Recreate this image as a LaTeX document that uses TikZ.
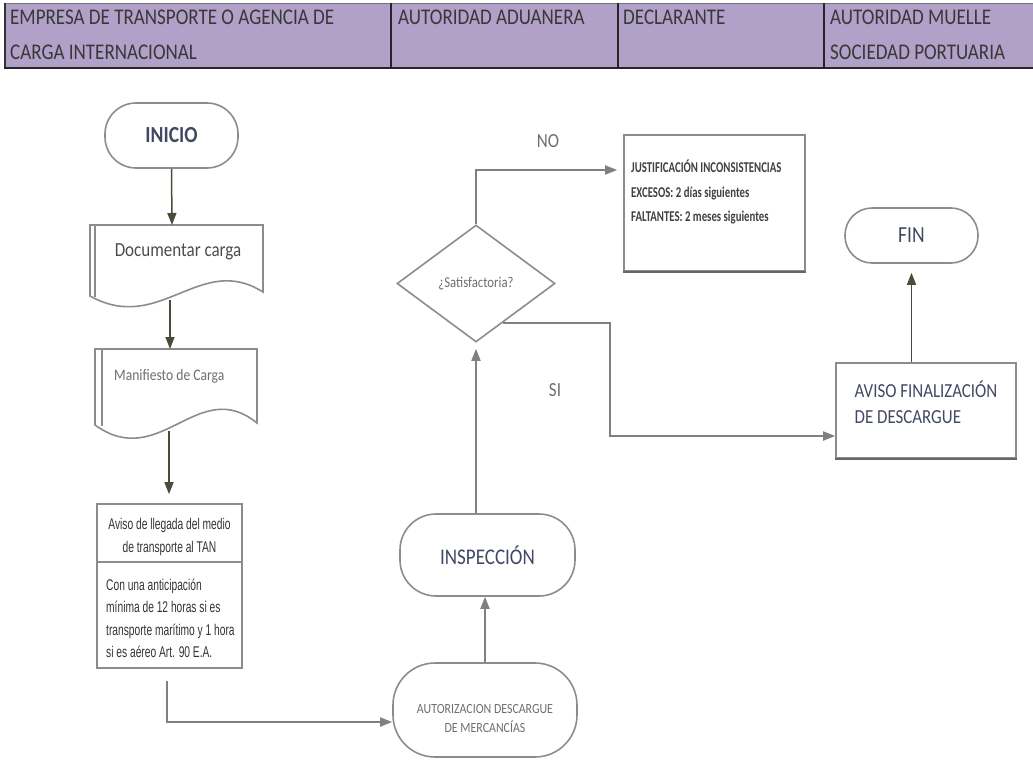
\documentclass[tikz,border=0pt]{standalone}
\usepackage{fontspec}
\setmainfont[FakeStretch=0.85]{Carlito}
\newfontfamily\narrowfont[FakeStretch=0.66]{Liberation Sans}
\newfontfamily\condfont[FakeStretch=0.72]{Carlito}
\usetikzlibrary{arrows.meta,shapes.geometric,calc}
\definecolor{hdrbg}{RGB}{177,160,199}
\definecolor{hdrtxt}{RGB}{56,56,56}
\definecolor{bordergray}{RGB}{140,140,140}
\definecolor{linegray}{RGB}{128,128,128}
\definecolor{olivec}{RGB}{77,74,58}
\definecolor{slate}{RGB}{64,72,100}
\definecolor{txtgray}{RGB}{110,110,110}
\begin{document}
\begin{tikzpicture}[x=1pt,y=-1pt,
  hdr/.style={anchor=north west,inner sep=0pt,align=left,text=hdrtxt,font=\fontsize{22.4}{35}\selectfont},
  term/.style={draw=bordergray,line width=1.6pt,rounded corners=#1,inner sep=0pt},
  boxst/.style={draw=bordergray,line width=1.6pt,inner sep=0pt},
  docline/.style={draw=bordergray,line width=1.6pt},
  arrOl/.style={draw=olivec,line width=1.5pt,-{Triangle[length=12pt,width=9pt]}},
  arrG/.style={draw=linegray,line width=1.8pt,-{Triangle[length=12pt,width=9pt]}}
]
\useasboundingbox (0,0) rectangle (1033,768);
% header
\fill[hdrbg] (5,3) rectangle (1033,68);
\draw[line width=0.8pt,black!55] (5,3) -- (1033,3);
\draw[line width=1.2pt,black!80] (5,3) -- (5,68);
\foreach \x in {391,618,824} \draw[line width=1.2pt,black!85] (\x,3) -- (\x,68);
\draw[line width=2.5pt,black!85] (4,68) -- (1033,68);
\node[hdr] (h1) at (10,10) {EMPRESA DE TRANSPORTE O AGENCIA DE\\CARGA INTERNACIONAL};
\node[hdr] (h2) at (398,10) {AUTORIDAD ADUANERA};
\node[hdr] (h3) at (623,10) {DECLARANTE};
\node[hdr] (h4) at (830,10) {AUTORIDAD MUELLE\\SOCIEDAD PORTUARIA};

% INICIO
\node[term=31pt,minimum width=133pt,minimum height=65pt,text=slate,font=\fontsize{23}{26}\selectfont\bfseries] (inicio) at (171.5,135.5) {INICIO};

% document 1
\draw[docline] (90,225) -- (263,225) -- (263,292) .. controls (200,252) and (160,335) .. (90,296) -- cycle;
\draw[docline] (95,225) -- (95,297);
\node[text=black!70,font=\fontsize{20}{24}\selectfont] (doc1) at (178,252) {Documentar carga};
\coordinate (d1top) at (172,225);
\coordinate (d1bot) at (170,300);

% document 2
\draw[docline] (95,349) -- (257,349) -- (257,423) .. controls (198,375) and (160,472) .. (95,425) -- cycle;
\draw[docline] (102,349) -- (102,426);
\node[anchor=west,inner sep=0pt,text=txtgray,font=\fontsize{16}{20}\selectfont] (doc2) at (114,376) {Manifiesto de Carga};
\coordinate (d2top) at (170,349);
\coordinate (d2bot) at (169,431);

% aviso box
\node[boxst,minimum width=145pt,minimum height=164pt] (aviso) at (169.5,586) {};
\draw[docline] (aviso.west |- 0,562) -- (aviso.east |- 0,562);
\node[align=center,inner sep=0pt,text=black!80,font=\narrowfont\fontsize{15.5}{23}\selectfont] (avisoA) at (169.5,536.5) {Aviso de llegada del medio\\de transporte al TAN};
\node[anchor=west,align=left,inner sep=0pt,text=black!80,font=\narrowfont\fontsize{15.5}{22.5}\selectfont] (avisoB) at (106,618.5) {Con una anticipación\\mínima de 12 horas si es\\transporte marítimo y 1 hora\\si es aéreo Art. 90 E.A.};
\coordinate (avturn) at (167,722);

% autorizacion
\node[term=42pt,minimum width=184pt,minimum height=94pt,text=txtgray,align=center,font=\fontsize{14}{19}\selectfont] (autor) at (485,710) {\rule{0pt}{26pt}AUTORIZACION DESCARGUE\\DE MERCANCÍAS};

% inspeccion
\node[term=36pt,minimum width=175pt,minimum height=82pt,text=slate,font=\fontsize{22.4}{26}\selectfont] (insp) at (487.5,555) {INSPECCIÓN};

% diamond
\node[diamond,draw=bordergray,line width=1.6pt,minimum width=158pt,minimum height=117pt,aspect=1.35,inner sep=0pt,text=txtgray,font=\fontsize{15}{18}\selectfont] (dia) at (476,283.5) {¿Satisfactoria?};

% justification
\node[boxst,minimum width=181pt,minimum height=136pt] (just) at (714.5,203) {};
\draw[line width=2.5pt,black!60] (just.south west) -- (just.south east);
\node[anchor=north west,align=left,inner sep=0pt,text=black!75,font=\condfont\bfseries\fontsize{15}{24.5}\selectfont] (justt) at (631,160) {JUSTIFICACIÓN INCONSISTENCIAS\\EXCESOS: 2 días siguientes\\FALTANTES: 2 meses siguientes};

% labels
\node[text=txtgray,font=\fontsize{20}{24}\selectfont] (nolab) at (548,141) {NO};
\node[text=txtgray,font=\fontsize{20}{24}\selectfont] (silab) at (555,390) {SI};

% aviso finalizacion
\node[boxst,minimum width=180pt,minimum height=95pt,text=slate,align=left,font=\fontsize{19.9}{26}\selectfont] (afin) at (926,410.5) {AVISO FINALIZACIÓN\\DE DESCARGUE\rule[-17pt]{0pt}{0pt}};
\draw[line width=2.2pt,black!60] (afin.south west) -- (afin.south east);

% FIN
\node[term=27pt,minimum width=133pt,minimum height=55pt,text=slate,font=\fontsize{23}{26}\selectfont] (fin) at (911.5,235.5) {FIN};

% connectors
\coordinate (noturn) at (476,170);
\coordinate (sistart) at ($(dia.east)!0.66!(dia.south)$);
\coordinate (sicorner) at (610,436);
\draw[arrOl] (inicio.south) -- (d1top);
\draw[arrOl] (d1bot) -- (d2top);
\draw[arrOl,shorten >=9pt] (d2bot) -- (d2bot |- aviso.north);
\draw[arrG,shorten <=12pt] (aviso.south -| avturn) -- (avturn) -- (avturn -| autor.west);
\draw[arrG] (autor.north) -- (autor.north |- insp.south);
\draw[arrG,shorten >=6pt] (insp.north -| dia.south) -- (dia.south);
\draw[arrG,shorten >=6pt] (dia.north) -- (noturn) -- (noturn -| just.west);
\draw[arrG] (sistart) -| (sicorner) -- (sicorner -| afin.west);
\draw[arrOl,shorten >=9pt] (afin.north -| fin.south) -- (fin.south);
\end{tikzpicture}
\end{document}
